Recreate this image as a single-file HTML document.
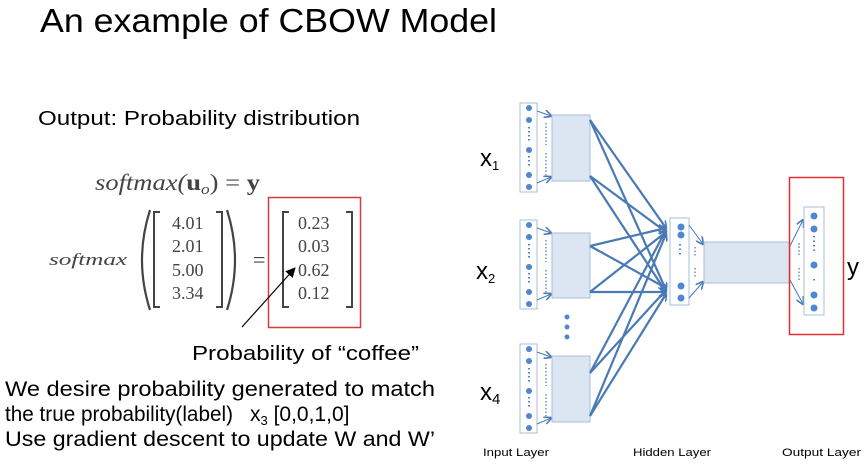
<!DOCTYPE html>
<html><head><meta charset="utf-8"><style>
html,body{margin:0;padding:0;background:#fff;}
svg{display:block;}
text{font-family:"Liberation Sans",sans-serif;}
text.serif,.serif text{font-family:"Liberation Serif",serif;fill:#444;}
</style></head><body>
<svg width="867" height="469" viewBox="0 0 867 469" xmlns="http://www.w3.org/2000/svg">
<defs>
<marker id="ah" markerWidth="8" markerHeight="8" refX="7" refY="4" orient="auto" markerUnits="userSpaceOnUse"><path d="M0,0 L8,4 L0,8" fill="none" stroke="#4a7ab5" stroke-width="1.6"/></marker>
<marker id="bk" markerWidth="10" markerHeight="10" refX="9" refY="5" orient="auto" markerUnits="userSpaceOnUse"><path d="M0,0 L10,5 L0,10 z" fill="#000"/></marker>
<g id="incol">
<rect x="0" y="0" width="17" height="89" fill="#fff" stroke="#a9bfdc" stroke-width="1"/>
<circle cx="9" cy="5" r="3" fill="#4f87d0"/><circle cx="9" cy="17" r="3" fill="#4f87d0"/>
<circle cx="9" cy="47" r="3" fill="#4f87d0"/><circle cx="9" cy="72" r="3" fill="#4f87d0"/><circle cx="9" cy="84" r="3" fill="#4f87d0"/>
<path d="M9,24 V40 M9,53 V65" stroke="#4f87d0" stroke-width="2" stroke-dasharray="1.5,2.5"/>
<path d="M26,20 V42 M26,50 V72" stroke="#6a90c0" stroke-width="1.5" stroke-dasharray="1.5,2"/>
<line x1="17" y1="8" x2="31" y2="13" stroke="#4a7ab5" stroke-width="1" marker-end="url(#ah)"/>
<line x1="17" y1="80" x2="31" y2="74" stroke="#4a7ab5" stroke-width="1" marker-end="url(#ah)"/>
</g>
</defs>

<text x="40" y="32" font-size="33" textLength="457" lengthAdjust="spacingAndGlyphs">An example of CBOW Model</text>
<text x="38" y="125" font-size="20" textLength="322" lengthAdjust="spacingAndGlyphs">Output: Probability distribution</text>

<text class="serif" x="95" y="190" font-size="23" font-style="italic" textLength="165" lengthAdjust="spacingAndGlyphs">softmax(<tspan font-weight="bold" font-style="normal">u</tspan><tspan font-size="15" dy="4">o</tspan><tspan dy="-4" font-style="normal">) = </tspan><tspan font-weight="bold" font-style="normal">y</tspan></text>
<text class="serif" x="49" y="265" font-size="17" font-style="italic" textLength="78" lengthAdjust="spacingAndGlyphs">softmax</text>
<path d="M150,210 Q134,260 150,310" fill="none" stroke="#444" stroke-width="2.2"/>
<path d="M227,210 Q243,260 227,310" fill="none" stroke="#444" stroke-width="2.2"/>
<path d="M160,212 H154 V307 H160 M216,212 H222 V307 H216" fill="none" stroke="#444" stroke-width="2"/>
<g class="serif" font-size="18">
<text x="172" y="229">4.01</text><text x="172" y="252">2.01</text><text x="172" y="276">5.00</text><text x="172" y="299">3.34</text>
<text x="298" y="229">0.23</text><text x="298" y="252">0.03</text><text x="298" y="276">0.62</text><text x="298" y="299">0.12</text>
</g>
<text class="serif" x="253" y="267" font-size="22">=</text>
<path d="M289,212 H283 V307 H289 M346,212 H352 V307 H346" fill="none" stroke="#444" stroke-width="2"/>
<rect x="268.5" y="197.5" width="92" height="130" fill="none" stroke="#d63b3b" stroke-width="1.5"/>
<line x1="242" y1="327" x2="295" y2="268" stroke="#000" stroke-width="1.2" marker-end="url(#bk)"/>
<text x="192" y="360" font-size="20" textLength="227" lengthAdjust="spacingAndGlyphs">Probability of “coffee”</text>

<text x="5" y="396" font-size="21" textLength="430" lengthAdjust="spacingAndGlyphs">We desire probability generated to match</text>
<text x="5" y="421" font-size="21" textLength="228" lengthAdjust="spacingAndGlyphs">the true probability(label)</text>
<text x="250" y="421" font-size="21">x<tspan font-size="13" dy="4">3</tspan><tspan dy="-4"> [0,0,1,0]</tspan></text>
<text x="5" y="446" font-size="21" textLength="430" lengthAdjust="spacingAndGlyphs">Use gradient descent to update W and W’</text>

<!-- network -->
<use href="#incol" x="520" y="103"/>
<use href="#incol" x="520" y="220"/>
<use href="#incol" x="520" y="344"/>
<rect x="552" y="115" width="38" height="66" fill="#dce6f2" stroke="#a9bfdc"/>
<rect x="552" y="233" width="38" height="65" fill="#dce6f2" stroke="#a9bfdc"/>
<rect x="552" y="356" width="38" height="66" fill="#dce6f2" stroke="#a9bfdc"/>
<circle cx="567" cy="317" r="2.5" fill="#4f87d0"/><circle cx="567" cy="327" r="2.5" fill="#4f87d0"/><circle cx="567" cy="337" r="2.5" fill="#4f87d0"/>

<g stroke="#4a7ab5" stroke-width="2.2" marker-end="url(#ah)">
<line x1="590" y1="120" x2="666" y2="228"/><line x1="590" y1="120" x2="666" y2="290"/>
<line x1="590" y1="176" x2="666" y2="232"/><line x1="590" y1="176" x2="666" y2="292"/>
<line x1="590" y1="246" x2="666" y2="228"/><line x1="590" y1="246" x2="666" y2="288"/>
<line x1="590" y1="292" x2="666" y2="232"/><line x1="590" y1="292" x2="666" y2="292"/>
<line x1="590" y1="373" x2="666" y2="230"/><line x1="590" y1="373" x2="666" y2="290"/>
<line x1="590" y1="416" x2="666" y2="234"/><line x1="590" y1="416" x2="666" y2="294"/>
</g>

<rect x="670" y="218" width="19" height="87" fill="#fff" stroke="#a9bfdc"/>
<circle cx="681" cy="227" r="3.5" fill="#4f87d0"/><circle cx="681" cy="235" r="3.5" fill="#4f87d0"/>
<circle cx="681" cy="286" r="3.5" fill="#4f87d0"/><circle cx="681" cy="298" r="3.5" fill="#4f87d0"/>
<path d="M680,244 V256" stroke="#4f87d0" stroke-width="2" stroke-dasharray="1.5,3"/>
<g stroke="#4a7ab5" stroke-width="1" marker-end="url(#ah)">
<line x1="689" y1="225" x2="703" y2="244"/><line x1="689" y1="298" x2="703" y2="282"/>
<line x1="790" y1="246" x2="803" y2="220"/><line x1="790" y1="280" x2="803" y2="304"/>
</g>
<path d="M695,247 V257 M695,268 V278 M799,243 V256 M799,268 V281" stroke="#6a90c0" stroke-width="1.5" stroke-dasharray="1.5,2"/>
<rect x="704" y="242" width="86" height="41" fill="#dce6f2" stroke="#a9bfdc"/>

<rect x="804" y="207" width="20" height="108" fill="#fff" stroke="#a9bfdc"/>
<circle cx="814" cy="216" r="3.5" fill="#4f87d0"/><circle cx="814" cy="229" r="3.5" fill="#4f87d0"/>
<circle cx="814" cy="265" r="3.5" fill="#4f87d0"/><circle cx="814" cy="295" r="3.5" fill="#4f87d0"/><circle cx="814" cy="308" r="3.5" fill="#4f87d0"/>
<path d="M814,236 V252 M814,279 V281" stroke="#4f87d0" stroke-width="2" stroke-dasharray="1.5,3"/>
<rect x="789.5" y="177.5" width="54" height="157" fill="none" stroke="#e03030" stroke-width="1.5"/>

<text x="480" y="166" font-size="24">x<tspan font-size="13" dy="4">1</tspan></text>
<text x="476" y="279" font-size="24">x<tspan font-size="13" dy="4">2</tspan></text>
<text x="480" y="400" font-size="24">x<tspan font-size="15" dy="4">4</tspan></text>
<text x="847" y="275" font-size="24">y</text>
<text x="483" y="456" font-size="11" textLength="66" lengthAdjust="spacingAndGlyphs">Input Layer</text>
<text x="633" y="456" font-size="11" textLength="78" lengthAdjust="spacingAndGlyphs">Hidden Layer</text>
<text x="782" y="456" font-size="11" textLength="79" lengthAdjust="spacingAndGlyphs">Output Layer</text>
</svg>
</body></html>
